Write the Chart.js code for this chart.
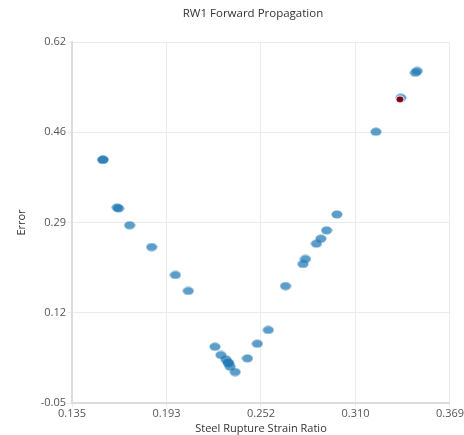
<!DOCTYPE html>
<html>
<head>
<meta charset="utf-8">
<script src="https://cdn.jsdelivr.net/npm/chart.js@4.4.0/dist/chart.umd.min.js"></script>
<style>
  html, body { margin: 0; padding: 0; background: #fff; }
  #wrap { width: 464px; height: 435px; position: relative; }
</style>
</head>
<body>
<div id="wrap"><canvas id="scatter"></canvas></div>
<script>
// Steel rupture strain ratio vs error, one run per point
var strainRatio = [
  0.1541, 0.1542, 0.1630, 0.1638, 0.1707, 0.1843, 0.1990, 0.2070,
  0.2235, 0.2272, 0.2303, 0.2319, 0.2317, 0.2329, 0.2360, 0.2436,
  0.2497, 0.2565, 0.2672, 0.2780, 0.2795, 0.2863, 0.2891, 0.2926,
  0.2990, 0.3232, 0.3386, 0.3476, 0.3487
];
var errorVals = [
  0.401, 0.402, 0.313, 0.311, 0.280, 0.2395, 0.1876, 0.158,
  0.0545, 0.0391, 0.031, 0.0237, 0.0252, 0.0174, 0.0075, 0.0329,
  0.060, 0.0855, 0.1671, 0.208, 0.2173, 0.2457, 0.255, 0.2705,
  0.300, 0.4535, 0.5166, 0.563, 0.5662
];

// selected run (red)
var selStrain = [0.3380];
var selError = [0.5136];

// axis ticks
var xTicks = [0.135, 0.1935, 0.252, 0.3105, 0.369];
var xTickLabels = ["0.135", "0.193", "0.252", "0.310", "0.369"];
var yTicks = [-0.05, 0.1175, 0.285, 0.4525, 0.62];
var yTickLabels = ["-0.05", "0.12", "0.29", "0.46", "0.62"];

function toPoints(xs, ys) {
  var pts = [];
  for (var i = 0; i < xs.length; i++) {
    pts.push({ x: xs[i], y: ys[i] });
  }
  return pts;
}

// little ellipse sprite used as point style
function ellipseSprite(w, h, fill, border) {
  var c = document.createElement("canvas");
  c.width = w;
  c.height = h;
  var g = c.getContext("2d");
  g.beginPath();
  g.ellipse(w / 2, h / 2, w / 2 - 0.5, h / 2 - 0.5, 0, 0, Math.PI * 2);
  if (border) {
    g.fillStyle = border;
    g.fill();
    g.beginPath();
    g.ellipse(w / 2, h / 2, w / 2 - 1.5, h / 2 - 1.5, 0, 0, Math.PI * 2);
  }
  g.fillStyle = fill;
  g.fill();
  return c;
}

var blueDot = ellipseSprite(12, 9, "rgba(31,119,180,0.72)");
var redDot = ellipseSprite(10, 9, "#7d0018", "#ffffff");

function pickTicks(list) {
  return function (scale) {
    scale.ticks = list.map(function (v) { return { value: v }; });
  };
}

function pickLabels(values, labels) {
  return function (value) {
    var i = values.indexOf(value);
    return i >= 0 ? labels[i] : "";
  };
}

// title drawn over the plot area
var topTitle = {
  id: "topTitle",
  afterDraw: function (chart) {
    var ctx = chart.ctx;
    var area = chart.chartArea;
    ctx.save();
    ctx.font = "11.5px 'Open Sans'";
    ctx.fillStyle = "#333";
    ctx.textAlign = "center";
    ctx.textBaseline = "middle";
    ctx.fillText("RW1 Forward Propagation", (area.left + area.right) / 2 - 8, 14);
    ctx.restore();
  }
};

var tickFont = { family: "'Open Sans'", size: 11 };

new Chart(document.getElementById("scatter"), {
  type: "scatter",
  data: {
    datasets: [
      {
        data: toPoints(selStrain, selError),
        pointStyle: redDot
      },
      {
        data: toPoints(strainRatio, errorVals),
        pointStyle: blueDot
      }
    ]
  },
  options: {
    responsive: true,
    maintainAspectRatio: false,
    animation: false,
    layout: { padding: { top: 42, right: 12, left: 0, bottom: 0 } },
    plugins: {
      legend: { display: false },
      tooltip: { enabled: false }
    },
    scales: {
      x: {
        type: "linear",
        min: 0.135,
        max: 0.369,
        afterBuildTicks: pickTicks(xTicks),
        afterFit: function (s) { s.height = 32; },
        grid: { color: "#ebebeb", tickLength: 4, lineWidth: 1 },
        border: { color: "#dcdcdc", width: 2 },
        ticks: {
          color: "#555",
          font: tickFont,
          padding: 0,
          maxRotation: 0,
          autoSkip: false,
          callback: pickLabels(xTicks, xTickLabels)
        },
        title: {
          display: true,
          text: "Steel Rupture Strain Ratio",
          color: "#333",
          font: { family: "'Open Sans'", size: 11 },
          padding: { top: 0, bottom: 0 }
        }
      },
      y: {
        type: "linear",
        min: -0.05,
        max: 0.62,
        afterBuildTicks: pickTicks(yTicks),
        afterFit: function (s) { s.width = 72; },
        grid: { color: "#ebebeb", tickLength: 5, lineWidth: 1 },
        border: { color: "#dcdcdc", width: 2 },
        ticks: {
          color: "#555",
          font: tickFont,
          padding: 1,
          autoSkip: false,
          callback: pickLabels(yTicks, yTickLabels)
        },
        title: {
          display: true,
          text: "Error",
          color: "#333",
          font: { family: "'Open Sans'", size: 11 },
          padding: { top: 15, bottom: 0 }
        }
      }
    }
  },
  plugins: [topTitle]
});
</script>
</body>
</html>
